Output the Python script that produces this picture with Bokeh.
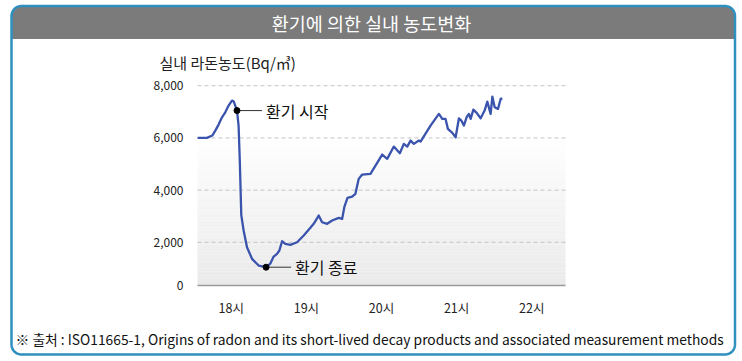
import numpy as np
from bokeh.plotting import figure
from bokeh.models import FixedTicker, LinearAxis, Range1d
from bokeh.core.properties import value
from bokeh.embed import file_html
from bokeh.resources import INLINE

# ---- data ----
hours = [17.551, 17.676, 17.747, 17.787, 17.831, 17.876, 17.920, 17.964, 18.009, 18.033,
         18.076, 18.097, 18.113, 18.124, 18.133, 18.164, 18.209, 18.276, 18.364, 18.463,
         18.520, 18.564, 18.609, 18.640, 18.676, 18.720, 18.787, 18.876, 18.964, 19.053,
         19.097, 19.164, 19.209, 19.276, 19.343, 19.431, 19.476, 19.507, 19.547, 19.609,
         19.653, 19.667, 19.697, 19.743, 19.853, 19.920, 20.009, 20.076, 20.164, 20.244,
         20.297, 20.343, 20.387, 20.431, 20.497, 20.520, 20.653, 20.764, 20.809, 20.853,
         20.884, 20.943, 20.987, 21.031, 21.063, 21.097, 21.133, 21.164, 21.187, 21.223,
         21.267, 21.320, 21.373, 21.409, 21.453, 21.476, 21.507, 21.551, 21.587, 21.609]
radon = [6000, 6000, 6090, 6281, 6511, 6791, 6982, 7239, 7430, 7392,
         7047, 6473, 5132, 3983, 3040, 2451, 1812, 1367, 1111, 1046,
         1187, 1455, 1559, 1685, 2041, 1942, 1904, 2003, 2260, 2555,
         2708, 3026, 2769, 2708, 2834, 2938, 2899, 3370, 3704, 3753,
         3857, 4048, 4431, 4596, 4623, 4941, 5362, 5197, 5668, 5412,
         5772, 5668, 5898, 5772, 5898, 5860, 6473, 6921, 6729, 6729,
         6346, 6193, 6025, 6752, 6664, 6473, 6791, 6921, 6729, 7086,
         6959, 6752, 7047, 7392, 6921, 7583, 7174, 7112, 7495, 7518]
start_idx = 10   # 환기 시작
end_idx = 19     # 환기 종료
event_labels = ["환기 시작", "환기 종료"]

y_axis_floor = 345
y_ticks = [y_axis_floor, 2000, 4000, 6000, 8000]
y_tick_labels = ["0", "2,000", "4,000", "6,000", "8,000"]
x_ticks = [18, 19, 20, 21, 22]
x_tick_labels = ["18시", "19시", "20시", "21시", "22시"]

title_text = "환기에 의한 실내 농도변화"
y_title = "실내 라돈농도(Bq/㎥)"
source_text = "※ 출처 : ISO11665-1, Origins of radon and its short-lived decay products and associated measurement methods"

KR = "Noto Sans CJK KR"
W, H = 742, 361

# chart area inside the canvas (pixels) and its data extent
X0, X1 = 17.55, 22.45
Y0, Y1 = y_axis_floor, 8200
CL, CR, CT, CB = 197, 565, 80, 285
kx = (X1 - X0) / (CR - CL)
ky = (Y1 - Y0) / (CB - CT)

p = figure(width=W, height=H,
           x_range=Range1d(X0 - CL * kx, X1 + (W - CR) * kx),
           y_range=Range1d(Y0 - (H - CB) * ky, Y1 + CT * ky),
           x_axis_location=None, y_axis_location=None,
           output_backend="svg", toolbar_location=None, min_border=0)
try:
    p.title = None
except Exception:
    p.title.visible = False
p.background_fill_color = "white"
p.border_fill_color = "white"
p.outline_line_color = None
p.grid.visible = False

# pixel-space ranges for the frame decorations
p.extra_x_ranges = {"px": Range1d(0, W)}
p.extra_y_ranges = {"px": Range1d(H, 0)}
PX = dict(x_range_name="px", y_range_name="px")


def rounded_path(l, t, r, b, rad, top_only=False):
    a = np.linspace(0, np.pi / 2, 12)
    xs, ys = [], []
    xs += list(l + rad - rad * np.cos(a)); ys += list(t + rad - rad * np.sin(a))
    xs += list(r - rad + rad * np.sin(a)); ys += list(t + rad - rad * np.cos(a))
    if top_only:
        xs += [r, l]; ys += [b, b]
    else:
        xs += list(r - rad + rad * np.cos(a)); ys += list(b - rad + rad * np.sin(a))
        xs += list(l + rad - rad * np.sin(a)); ys += list(b - rad + rad * np.cos(a))
    xs.append(xs[0]); ys.append(ys[0])
    return xs, ys


hx, hy = rounded_path(11.5, 6, 734, 38.5, 9, top_only=True)
p.patch(hx, hy, fill_color="#7b7b7b", line_color=None, **PX)
bx, by = rounded_path(11, 5.5, 734.5, 354, 10)
p.line(bx, by, line_color="#2f8fbf", line_width=2.5, **PX)

# background gradient of the chart area
edges = np.linspace(Y0, Y1, 61)
t = ((edges[:-1] + edges[1:]) / 2 - Y0) / (Y1 - Y0)
lv = np.clip(234 + 21 * t / 0.72, 0, 255).astype(int)
cols = ["#%02x%02x%02x" % (v, v, v) for v in lv]
p.quad(left=X0, right=X1, bottom=edges[:-1], top=edges[1:],
       fill_color=cols, line_color=None)

# horizontal dashed grid
gt = y_ticks[1:]
p.segment(x0=[X0] * len(gt), x1=[X1] * len(gt), y0=gt, y1=gt,
          line_color="#c4c4c4", line_width=1, line_dash="4 3")

# axes, fixed at the chart area's edges
xaxis = LinearAxis(fixed_location=Y0, bounds=(X0, X1), ticker=FixedTicker(ticks=x_ticks))
xaxis.major_label_overrides = dict(zip(x_ticks, x_tick_labels))
xaxis.axis_line_color = "#9a9a9a"
xaxis.axis_line_width = 1.5
xaxis.major_tick_line_color = None
xaxis.minor_tick_line_color = None
xaxis.major_label_text_font = KR
xaxis.major_label_text_font_size = "12.5px"
xaxis.major_label_text_color = "#222222"
xaxis.major_label_standoff = 6
p.add_layout(xaxis, "below")

yaxis = LinearAxis(fixed_location=X0, bounds=(Y0, 8000), ticker=FixedTicker(ticks=y_ticks))
yaxis.major_label_overrides = dict(zip(y_ticks, y_tick_labels))
yaxis.axis_line_color = None
yaxis.major_tick_line_color = None
yaxis.minor_tick_line_color = None
yaxis.major_label_text_font = KR
yaxis.major_label_text_font_size = "12px"
yaxis.major_label_text_color = "#222222"
yaxis.major_label_standoff = 8
p.add_layout(yaxis, "left")

# data line
p.line(hours, radon, line_color="#3a54ad", line_width=2.3, line_join="round")

# event markers with connectors and labels
ev_x = [hours[start_idx], hours[end_idx]]
ev_y = [radon[start_idx], radon[end_idx]]
p.segment(x0=ev_x, y0=ev_y, x1=[x + 25 * kx for x in ev_x], y1=ev_y,
          line_color="#333333", line_width=1)
p.scatter(ev_x, ev_y, size=6, color="black")
p.text(x=ev_x, y=ev_y, text=event_labels, x_offset=29, text_font=value(KR),
       text_font_size="16px", text_color="#111111", text_baseline="middle")

# texts of the frame
p.text(x=[371], y=[22], text=[title_text], text_font=value(KR), text_font_size="18.5px",
       text_color="white", text_align="center", text_baseline="middle", **PX)
p.text(x=[159], y=[62], text=[y_title], text_font=value(KR), text_font_size="15px",
       text_color="#222222", text_baseline="middle", **PX)
p.text(x=[15], y=[338], text=[source_text], text_font=value(KR), text_font_size="13.8px",
       text_color="#111111", text_baseline="middle", **PX)

open("out.html", "w").write(file_html(p, INLINE))
